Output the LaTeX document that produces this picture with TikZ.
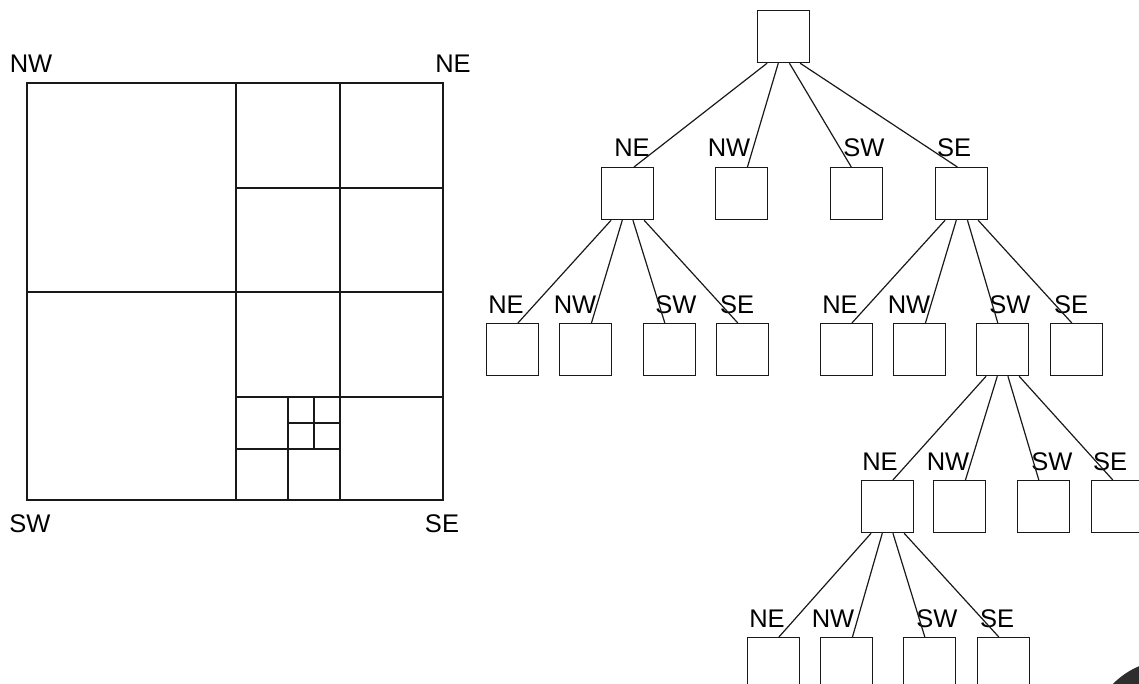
\documentclass[tikz,border=0pt]{standalone}
\usepackage{fontspec}
\setmainfont{Liberation Sans}
\usetikzlibrary{calc}
\tikzset{
  ln/.style={line width=1.2pt, draw=black!90},
  qbox/.style={ln, rectangle, minimum width=52pt, minimum height=52pt, inner sep=0pt, anchor=north west},
  lbl/.style={inner sep=0pt, font=\fontsize{25.5}{28}\selectfont, text=black},
}
% edge from parent bottom (fraction a) to child top (fraction b)
\newcommand{\qedge}[4]{\draw[ln] ($(#1.south west)!#2!(#1.south east)$) -- ($(#3.north west)!#4!(#3.north east)$);}
\begin{document}
\begin{tikzpicture}[x=1pt, y=-1pt]
\useasboundingbox (0,0) rectangle (1139,684);
\clip (0,0) rectangle (1139,684);

% ---------- region decomposition ----------
\draw[ln] (27,83) rectangle (443,500);
\draw[ln] (236,83) -- (236,500);
\draw[ln] (27,292) -- (443,292);
\draw[ln] (340,83) -- (340,500);
\draw[ln] (236,188) -- (443,188);
\draw[ln] (236,397) -- (443,397);
\draw[ln] (288,397) -- (288,500);
\draw[ln] (236,449) -- (340,449);
\draw[ln] (314,397) -- (314,449);
\draw[ln] (288,423) -- (340,423);
\node[lbl] (cNW) at (31,64) {NW};
\node[lbl] (cNE) at (453,64) {NE};
\node[lbl] (cSW) at (30,524) {SW};
\node[lbl] (cSE) at (442,524) {SE};

% ---------- tree ----------
\node[qbox] (r) at (757,10) {};

% level 1
\node[qbox] (a1) at (601,167) {};
\node[qbox] (a2) at (715,167) {};
\node[qbox] (a3) at (830,167) {};
\node[qbox] (a4) at (935,167) {};
\node[lbl] at (632,148) {NE};
\node[lbl] at (729,148) {NW};
\node[lbl] at (864,148) {SW};
\node[lbl] at (954,148) {SE};

% level 2, under a1
\node[qbox] (b1) at (486,323) {};
\node[qbox] (b2) at (559,323) {};
\node[qbox] (b3) at (643,323) {};
\node[qbox] (b4) at (716,323) {};
\node[lbl] at (506,305) {NE};
\node[lbl] at (575,305) {NW};
\node[lbl] at (676,305) {SW};
\node[lbl] at (737,305) {SE};

% level 2, under a4
\node[qbox] (c1) at (820,323) {};
\node[qbox] (c2) at (893,323) {};
\node[qbox] (c3) at (976,323) {};
\node[qbox] (c4) at (1050,323) {};
\node[lbl] at (840,305) {NE};
\node[lbl] at (909,305) {NW};
\node[lbl] at (1010,305) {SW};
\node[lbl] at (1071,305) {SE};

% level 3, under c3
\node[qbox] (d1) at (861,480) {};
\node[qbox] (d2) at (933,480) {};
\node[qbox] (d3) at (1017,480) {};
\node[qbox] (d4) at (1091,480) {};
\node[lbl] at (880,462) {NE};
\node[lbl] at (948,462) {NW};
\node[lbl] at (1052,462) {SW};
\node[lbl] at (1110,462) {SE};

% level 4, under d1
\node[qbox] (e1) at (747,637) {};
\node[qbox] (e2) at (820,637) {};
\node[qbox] (e3) at (903,637) {};
\node[qbox] (e4) at (977,637) {};
\node[lbl] at (767,619) {NE};
\node[lbl] at (833,619) {NW};
\node[lbl] at (937,619) {SW};
\node[lbl] at (997,619) {SE};

% connectors
\qedge{r}{0.19}{a1}{0.62}
\qedge{r}{0.40}{a2}{0.61}
\qedge{r}{0.61}{a3}{0.40}
\qedge{r}{0.81}{a4}{0.42}

\qedge{a1}{0.19}{b1}{0.60}
\qedge{a1}{0.40}{b2}{0.61}
\qedge{a1}{0.60}{b3}{0.41}
\qedge{a1}{0.81}{b4}{0.41}

\qedge{a4}{0.19}{c1}{0.60}
\qedge{a4}{0.40}{c2}{0.61}
\qedge{a4}{0.61}{c3}{0.41}
\qedge{a4}{0.81}{c4}{0.41}

\qedge{c3}{0.19}{d1}{0.60}
\qedge{c3}{0.40}{d2}{0.61}
\qedge{c3}{0.60}{d3}{0.41}
\qedge{c3}{0.81}{d4}{0.41}

\qedge{d1}{0.19}{e1}{0.60}
\qedge{d1}{0.40}{e2}{0.61}
\qedge{d1}{0.60}{e3}{0.41}
\qedge{d1}{0.81}{e4}{0.41}

% dark disc edge in the corner
\fill[black!82] (1170,740) circle[radius=80];
\end{tikzpicture}
\end{document}
